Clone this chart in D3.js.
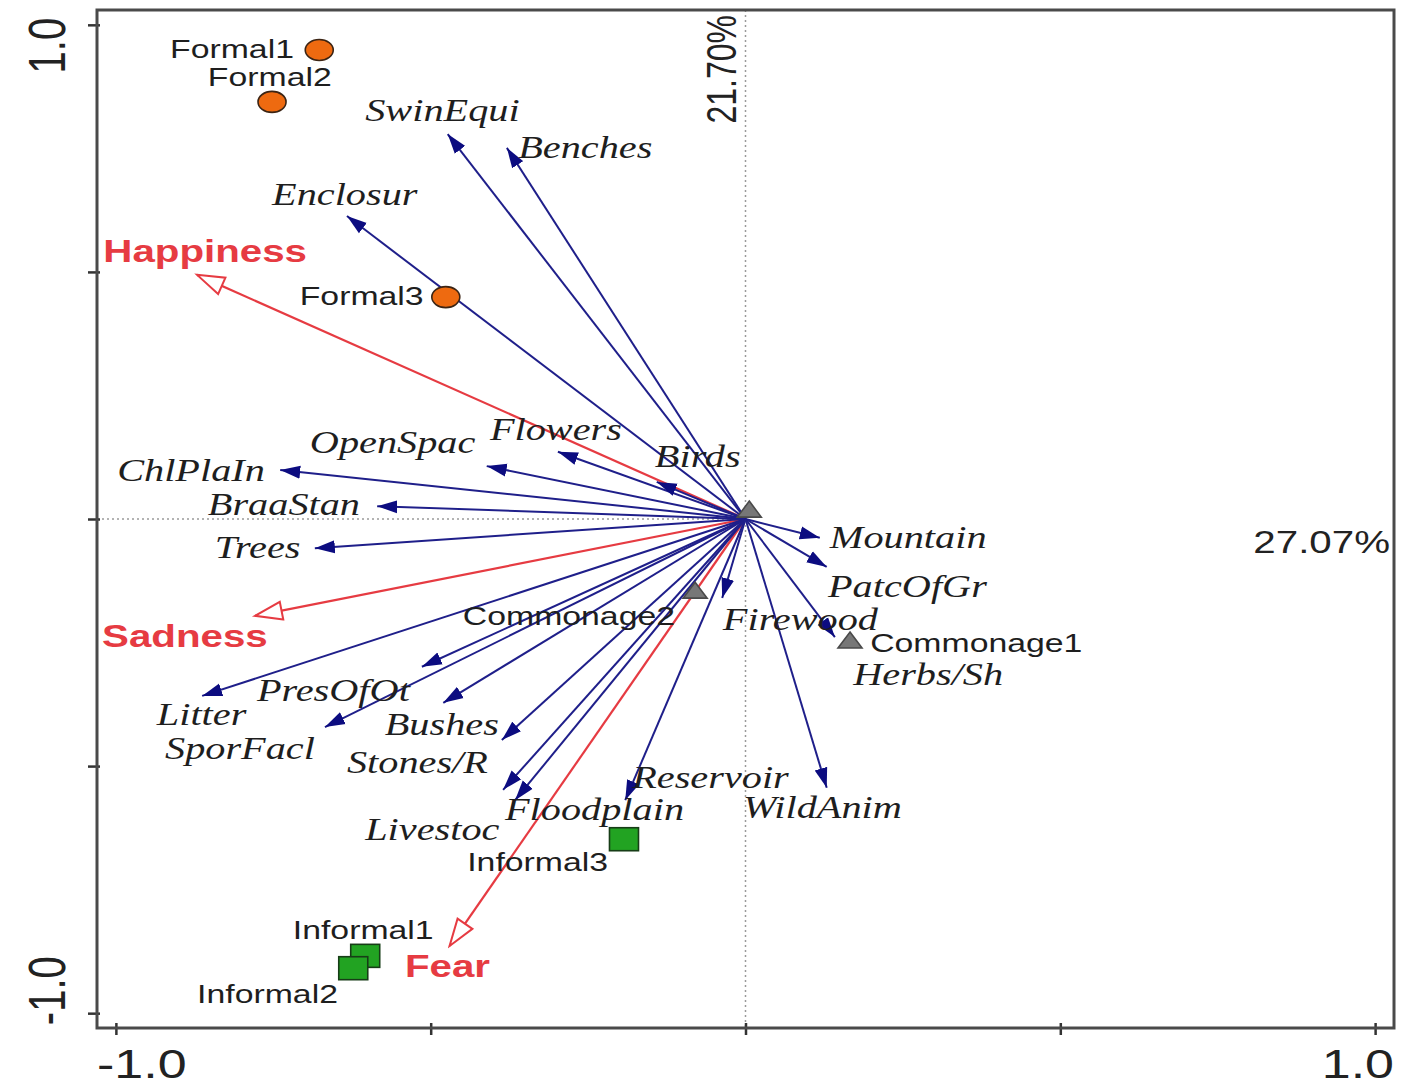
<!DOCTYPE html>
<html>
<head>
<meta charset="utf-8">
<script src="https://cdn.jsdelivr.net/npm/d3@7"></script>
<style>
  html, body { margin:0; padding:0; background:#fff; }
</style>
</head>
<body>
<svg id="chart" width="1402" height="1088"></svg>
<script>
// environmental variables (blue arrows)
const varNames = ["SwinEqui","Benches","Enclosur","OpenSpac","Flowers","Birds","ChlPlaIn","BraaStan","Trees","Litter","PresOfOt","SporFacl","Bushes","Stones/R","Livestoc","Floodplain","Reservoir","Firewood","Mountain","PatcOfGr","Herbs/Sh","WildAnim"]
const varX = [-0.473,-0.379,-0.633,-0.411,-0.298,-0.141,-0.739,-0.585,-0.684,-0.863,-0.514,-0.668,-0.480,-0.387,-0.385,-0.366,-0.191,-0.037,0.118,0.129,0.142,0.129]
const varY = [0.779,0.751,0.613,0.107,0.136,0.075,0.099,0.026,-0.059,-0.358,-0.299,-0.421,-0.372,-0.447,-0.548,-0.569,-0.569,-0.160,-0.038,-0.097,-0.239,-0.544]
const varLabelX = [-0.604,-0.361,-0.752,-0.692,-0.406,-0.144,-0.998,-0.854,-0.843,-0.935,-0.776,-0.922,-0.573,-0.633,-0.604,-0.382,-0.180,-0.036,0.134,0.131,0.171,-0.004]
const varLabelY = [0.805,0.730,0.635,0.134,0.160,0.105,0.077,0.008,-0.079,-0.417,-0.368,-0.486,-0.437,-0.514,-0.650,-0.609,-0.544,-0.225,-0.059,-0.158,-0.336,-0.605]

// emotions (red arrows)
const emoNames = ["Happiness","Sadness","Fear"]
const emoX = [-0.871,-0.779,-0.470]
const emoY = [0.494,-0.196,-0.864]
const emoLabelX = [-1.020,-1.022,-0.541]
const emoLabelY = [0.520,-0.259,-0.927]

// sites
const siteNames = ["Formal1","Formal2","Formal3","Commonage1","Commonage2","Commonage3","Informal1","Informal2","Informal3"]
const siteGroups = ["Formal","Formal","Formal","Commonage","Commonage","Commonage","Informal","Informal","Informal"]
const siteX = [-0.677,-0.752,-0.476,0.166,-0.080,0.006,-0.604,-0.623,-0.193]
const siteY = [0.949,0.844,0.449,-0.247,-0.146,0.018,-0.884,-0.909,-0.648]
const siteLabelX = [-0.914,-0.854,-0.708,0.198,-0.449,null,-0.719,-0.871,-0.442]
const siteLabelY = [0.933,0.876,0.433,-0.269,-0.214,null,-0.850,-0.979,-0.712]

const axisTicks = [-1,-0.5,0,0.5,1]
const axisExtent = [-1.03,1.03]
const axis1Label = "27.07%"
const axis2Label = "21.70%"

const STRETCH = 1.3
const BLUE = "#1f1f8a"
const RED = "#e63b42"

let svg = d3.select("#chart")
let x = d3.scaleLinear().domain(axisExtent).range([97,1394])
let y = d3.scaleLinear().domain(axisExtent).range([1028,10])

let stretch = (px,py,rot) => `translate(${px},${py}) scale(${STRETCH},1)` + (rot ? ` rotate(${rot})` : "")
let fmt = v => d3.format(".1f")(v).replace("\u2212","-")

let defs = svg.append("defs")
defs.append("marker")
    .attr("id","headBlue")
    .attr("markerUnits","userSpaceOnUse")
    .attr("markerWidth",22).attr("markerHeight",14)
    .attr("refX",20).attr("refY",7)
    .attr("orient","auto")
  .append("path")
    .attr("d","M0,0.5 L20,7 L0,13.5 Z")
    .attr("fill","#0c0c80")
defs.append("marker")
    .attr("id","headRed")
    .attr("markerUnits","userSpaceOnUse")
    .attr("markerWidth",32).attr("markerHeight",22)
    .attr("refX",29).attr("refY",11)
    .attr("orient","auto")
  .append("path")
    .attr("d","M2,2 L29,11 L2,20 Z")
    .attr("fill","#fff")
    .attr("stroke",RED)
    .attr("stroke-width",2)

// reference lines through the origin
svg.append("line")
    .attr("x1",x(0)).attr("x2",x(0))
    .attr("y1",y(axisExtent[1])).attr("y2",y(axisExtent[0]))
    .attr("stroke","#9a9a9a").attr("stroke-width",1.5).attr("stroke-dasharray","2,3")
svg.append("line")
    .attr("x1",x(axisExtent[0])).attr("x2",x(0))
    .attr("y1",y(0)).attr("y2",y(0))
    .attr("stroke","#9a9a9a").attr("stroke-width",1.5).attr("stroke-dasharray","2,3")

// axes ticks
svg.append("g")
    .attr("transform",`translate(0,${y(axisExtent[0])})`)
    .call(d3.axisBottom(x).tickValues(axisTicks).tickSize(7).tickFormat(""))
    .call(g=>g.select(".domain").remove())
    .call(g=>g.selectAll(".tick line").attr("y1",-5).attr("stroke","#333").attr("stroke-width",2.5))
svg.append("g")
    .attr("transform",`translate(${x(axisExtent[0])},0)`)
    .call(d3.axisLeft(y).tickValues(axisTicks).tickSize(9).tickFormat(""))
    .call(g=>g.select(".domain").remove())
    .call(g=>g.selectAll(".tick line").attr("x1",3).attr("stroke","#333").attr("stroke-width",2.5))

svg.append("rect")
    .attr("x",x(axisExtent[0])).attr("y",y(axisExtent[1]))
    .attr("width",x(axisExtent[1])-x(axisExtent[0]))
    .attr("height",y(axisExtent[0])-y(axisExtent[1]))
    .attr("fill","none").attr("stroke","#4a4a4a").attr("stroke-width",3)

// tick labels, only the ends are labelled
let tickFont = "'Liberation Sans', Arial, sans-serif"
svg.append("text").text(fmt(axisTicks[0]))
    .attr("transform",stretch(x(axisExtent[0]),1078))
    .attr("font-family",tickFont).attr("font-size",40).attr("fill","#222")
svg.append("text").text(fmt(axisTicks[4]))
    .attr("transform",stretch(x(axisExtent[1]),1078))
    .attr("text-anchor","end")
    .attr("font-family",tickFont).attr("font-size",40).attr("fill","#222")
svg.append("text").text(fmt(axisTicks[4]))
    .attr("transform",stretch(65,y(axisTicks[4])-7,-90))
    .attr("text-anchor","end")
    .attr("font-family",tickFont).attr("font-size",40).attr("fill","#222")
svg.append("text").text(fmt(axisTicks[0]))
    .attr("transform",stretch(65,y(axisTicks[0])+12,-90))
    .attr("text-anchor","start")
    .attr("font-family",tickFont).attr("font-size",40).attr("fill","#222")

// eigenvalue percentages
svg.append("text").text(axis1Label)
    .attr("transform",stretch(x(axisExtent[1])-4,y(0)+34))
    .attr("text-anchor","end")
    .attr("font-family",tickFont).attr("font-size",31).attr("fill","#222")
svg.append("text").text(axis2Label)
    .attr("transform",stretch(x(0)-10,y(axisExtent[1])+5,-90))
    .attr("text-anchor","end")
    .attr("font-family",tickFont).attr("font-size",32).attr("fill","#222")

// red emotion arrows
svg.append("g").selectAll("line")
  .data(emoNames)
  .join("line")
    .attr("x1",x(0)).attr("y1",y(0))
    .attr("x2",(d,i)=>x(emoX[i])).attr("y2",(d,i)=>y(emoY[i]))
    .attr("stroke",RED).attr("stroke-width",2.2)
    .attr("marker-end","url(#headRed)")

// blue variable arrows
svg.append("g").selectAll("line")
  .data(varNames)
  .join("line")
    .attr("x1",x(0)).attr("y1",y(0))
    .attr("x2",(d,i)=>x(varX[i])).attr("y2",(d,i)=>y(varY[i]))
    .attr("stroke",BLUE).attr("stroke-width",2)
    .attr("marker-end","url(#headBlue)")

// site symbols
let siteFill = {Formal:"#ee6a10", Commonage:"#777777", Informal:"#22a322"}
let siteStroke = {Formal:"#3b2414", Commonage:"#4a4a4a", Informal:"#173d17"}
let sites = svg.append("g")
siteNames.forEach((name,i)=>{
  let g = siteGroups[i]
  let px = x(siteX[i]), py = y(siteY[i])
  let sel
  if(g=="Formal"){
    sel = sites.append("ellipse").attr("cx",px).attr("cy",py).attr("rx",14).attr("ry",10.5)
  } else if(g=="Informal"){
    sel = sites.append("rect").attr("x",px-14.5).attr("y",py-11.5).attr("width",29).attr("height",23)
  } else {
    sel = sites.append("path").attr("d",`M${px},${py-9} L${px+12},${py+7} L${px-12},${py+7} Z`)
  }
  sel.attr("fill",siteFill[g]).attr("stroke",siteStroke[g]).attr("stroke-width",1.6)
})

// labels
svg.append("g").selectAll("text")
  .data(varNames)
  .join("text")
    .text(d=>d)
    .attr("transform",(d,i)=>stretch(x(varLabelX[i]),y(varLabelY[i])))
    .attr("font-family","'Liberation Serif', 'Times New Roman', serif")
    .attr("font-style","italic")
    .attr("font-size",31)
    .attr("fill","#1e1e1e")

svg.append("g").selectAll("text")
  .data(emoNames)
  .join("text")
    .text(d=>d)
    .attr("transform",(d,i)=>stretch(x(emoLabelX[i]),y(emoLabelY[i])))
    .attr("font-family",tickFont)
    .attr("font-weight","bold")
    .attr("font-size",31)
    .attr("fill",RED)

svg.append("g").selectAll("text")
  .data(siteNames.filter((d,i)=>siteLabelX[i]!=null))
  .join("text")
    .text(d=>d)
    .attr("transform",d=>{
      let i = siteNames.indexOf(d)
      return stretch(x(siteLabelX[i]),y(siteLabelY[i]))
    })
    .attr("font-family",tickFont)
    .attr("font-size",26)
    .attr("fill","#1e1e1e")
</script>
</body>
</html>
